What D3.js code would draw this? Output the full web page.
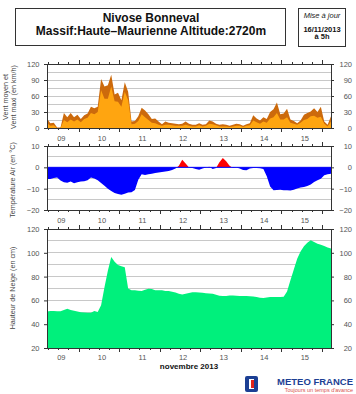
<!DOCTYPE html>
<html><head><meta charset="utf-8">
<script src="https://cdn.jsdelivr.net/npm/d3@7"></script>
<style>
body{margin:0;background:#fff;}
svg{display:block;font-family:Arial,"Liberation Sans",sans-serif;}
</style></head>
<body><svg id="c" width="356" height="394"></svg>
<script>
// ---- data (2-hourly, starting 2013-11-09 05:00) ----
const startTime = new Date(2013, 10, 9, 5, 0);
const stepHours = 2;
const windMax = [18,9,10,1,1,28,20,28,20,25,17,24,27,40,37,40,92,78,80,100,63,66,52,86,68,12,13,22,38,33,26,17,18,12,7,12,10,9,8,7,8,12,8,6,6,9,6,7,14,12,8,6,7,6,4,6,8,7,4,7,9,24,18,14,20,17,30,35,48,26,27,36,16,13,9,14,25,28,31,37,30,40,12,6,22];
const windMean = [9,4,5,0,0,15,11,16,12,16,11,17,19,28,26,30,71,55,55,78,50,49,40,68,52,7,8,13,26,20,15,10,9,6,4,6,6,5,4,4,4,6,4,3,3,5,3,4,8,7,5,3,3,3,2,3,4,4,2,4,5,14,11,8,12,10,18,20,28,16,16,20,10,8,6,10,15,17,22,23,19,21,8,3,12];
const temperature = [-5.5,-5.5,-5.0,-4.8,-6.2,-7.0,-7.2,-6.6,-7.5,-7.0,-6.6,-6.5,-6.0,-4.8,-5.2,-6.0,-7.3,-8.6,-10.0,-11.1,-12.0,-12.5,-12.8,-12.4,-11.8,-11.7,-10.6,-5.8,-3.3,-3.6,-3.2,-3.0,-2.7,-2.4,-2.2,-2.0,-1.7,-1.3,-0.6,0.8,3.5,1.8,-0.1,-0.3,-0.8,-1.1,-0.6,-0.1,0.3,-0.8,-0.3,2.4,4.4,2.8,0.8,-0.3,-0.1,-0.5,-1.2,-1.4,-0.6,-0.3,-0.3,-0.4,-0.8,-4.2,-9.0,-10.8,-10.6,-10.5,-10.7,-10.8,-10.9,-10.5,-9.9,-9.4,-9.2,-8.8,-8.0,-6.9,-6.0,-5.3,-3.7,-3.2,-3.0];
const snowDepth = [50.7,51,51,50.8,50.8,52,53,52,51.3,50.6,50.1,49.8,49.6,49.6,51,50.3,56,71,85,96.5,92.5,89.8,88.8,87.8,70,68.5,68.6,68.2,67.8,69,69.8,69.5,68.6,68.5,68.5,68,67.8,67.2,66.6,65.5,65,65.6,66.2,66.8,66.8,66.6,66.4,66,65.8,65.5,64.8,64,63.7,63.8,64.2,64.1,63.9,63.8,63.7,63.6,63.5,63.3,62.8,62.2,62,62.4,62.8,62.8,62.8,62.8,63,67.5,77,86,95,101,105.5,108.5,110.5,109,107.7,106.8,105.7,104.5,103.7];
const dayLabels = ["09","10","11","12","13","14","15"];
const windTicks = [0,30,60,90,120];
const tempTicks = [-20,-10,0,10];
const snowTicks = [20,40,60,80,100,120];

const times = windMax.map((_, i) => new Date(startTime.getTime() + i * stepHours * 3600e3));
const endTime = times[times.length - 1];

const svg = d3.select("#c");
const X0 = 47, X1 = 331;
const x = d3.scaleTime().domain([startTime, endTime]).range([X0, X1]);

const gridCol = "#c8c8c8", frameCol = "#333", labCol = "#555";

function panel(y0, y1, domain, gridStep, ticks) {
  const y = d3.scaleLinear().domain(domain).range([y1, y0]);
  const g = svg.append("g");
  const grid = d3.range(domain[0] + gridStep, domain[1], gridStep);
  g.selectAll(".grid").data(grid).join("line")
    .attr("x1", X0).attr("x2", X1).attr("y1", d => y(d)).attr("y2", d => y(d))
    .attr("stroke", gridCol).attr("stroke-width", 1).attr("shape-rendering", "crispEdges");
  return { y, g, y0, y1, ticks };
}

function frame(p, labelBelow) {
  const { y, y0, y1, ticks } = p;
  const fg = svg.append("g");
  fg.append("rect").attr("x", X0).attr("y", y0).attr("width", X1 - X0).attr("height", y1 - y0)
    .attr("fill", "none").attr("stroke", frameCol).attr("stroke-width", 1).attr("shape-rendering", "crispEdges");
  const t6 = d3.timeHour.every(6).range(startTime, endTime);
  t6.forEach(t => {
    const major = t.getHours() === 0;
    const len = major ? 4 : 2;
    fg.append("line").attr("x1", x(t)).attr("x2", x(t)).attr("y1", y1).attr("y2", y1 + len)
      .attr("stroke", frameCol).attr("shape-rendering", "crispEdges");
    fg.append("line").attr("x1", x(t)).attr("x2", x(t)).attr("y1", y0).attr("y2", y0 - len)
      .attr("stroke", frameCol).attr("shape-rendering", "crispEdges");
  });
  const yl = d3.axisLeft(y).tickValues(ticks).tickSize(3).tickFormat(d3.format("d"));
  const yr = d3.axisRight(y).tickValues(ticks).tickSize(3).tickFormat(d3.format("d"));
  const al = fg.append("g").attr("transform", `translate(${X0},0)`).call(yl);
  const ar = fg.append("g").attr("transform", `translate(${X1},0)`).call(yr);
  [al, ar].forEach(a => {
    a.select(".domain").remove();
    a.selectAll("line").attr("stroke", frameCol);
    a.selectAll("text").attr("font-size", 7.5).attr("fill", labCol).attr("font-family", "Arial, Liberation Sans, sans-serif");
  });
  al.selectAll("text").attr("x", -7.5);
  ar.selectAll("text").attr("text-anchor", "end").attr("x", 21);
  dayLabels.forEach((lab, i) => {
    const t = new Date(2013, 10, 9 + i, 13, 30);
    fg.append("text").attr("x", x(t)).attr("y", y1 + labelBelow).attr("text-anchor", "middle")
      .attr("font-size", 7.5).attr("fill", labCol).text(lab);
  });
}

// ---- Panel 1: wind ----
const p1 = panel(64, 128, [0, 120], 15, windTicks);
const areaW = d3.area().x((d, i) => x(times[i])).y0(p1.y(0)).y1(d => p1.y(d));
p1.g.append("path").datum(windMax).attr("d", areaW).attr("fill", "#cc6a0c");
p1.g.append("path").datum(windMean).attr("d", areaW).attr("fill", "#ffa510");
frame(p1, 12.5);

// ---- Panel 2: temperature ----
const p2 = panel(146, 210, [-20, 10], 5, tempTicks);
const defs = svg.append("defs");
defs.append("clipPath").attr("id", "above").append("rect")
  .attr("x", X0).attr("y", p2.y0).attr("width", X1 - X0).attr("height", p2.y(0) - p2.y0);
defs.append("clipPath").attr("id", "below").append("rect")
  .attr("x", X0).attr("y", p2.y(0)).attr("width", X1 - X0).attr("height", p2.y1 - p2.y(0));
const areaT = d3.area().x((d, i) => x(times[i])).y0(p2.y(0)).y1(d => p2.y(d));
p2.g.append("path").datum(temperature).attr("d", areaT).attr("fill", "#ff0000").attr("clip-path", "url(#above)");
p2.g.append("path").datum(temperature).attr("d", areaT).attr("fill", "#0000ff").attr("clip-path", "url(#below)");
p2.g.append("line").attr("x1", X0).attr("x2", X1).attr("y1", p2.y(0)).attr("y2", p2.y(0))
  .attr("stroke", "#0000ff").attr("stroke-width", 1);
frame(p2, 13.3);

// ---- Panel 3: snow ----
const p3 = panel(229, 348, [20, 120], 10, snowTicks);
const areaS = d3.area().x((d, i) => x(times[i])).y0(p3.y(20)).y1(d => p3.y(d));
p3.g.append("path").datum(snowDepth).attr("d", areaS).attr("fill", "#00f07c");
frame(p3, 12.3);

svg.append("text").attr("x", (X0 + X1) / 2).attr("y", 369).attr("text-anchor", "middle")
  .attr("font-size", 8).attr("font-weight", "bold").attr("fill", "#111").text("novembre 2013");

// ---- Y titles ----
function ytitle(lines, cx, cy, dx) {
  lines.forEach((l, i) => {
    svg.append("text").attr("transform", `translate(${cx + i * dx},${cy}) rotate(-90)`)
      .attr("text-anchor", "middle").attr("font-size", 7.2).attr("fill", "#444").text(l);
  });
}
ytitle(["Vent moyen et", "Vent maxi (en km/h)"], 8, 97, 8);
ytitle(["Température Air (en °C)"], 15, 180, 0);
ytitle(["Hauteur de Neige (en cm)"], 15, 288, 0);

// ---- Title boxes ----
svg.append("rect").attr("x", 15.5).attr("y", 8.5).attr("width", 270).attr("height", 37)
  .attr("fill", "#fff").attr("stroke", "#333").attr("stroke-width", 1);
svg.append("text").attr("x", 151).attr("y", 21.5).attr("text-anchor", "middle")
  .attr("font-size", 12).attr("font-weight", "bold").attr("fill", "#111").text("Nivose Bonneval");
svg.append("text").attr("x", 151).attr("y", 35).attr("text-anchor", "middle")
  .attr("font-size", 12).attr("font-weight", "bold").attr("fill", "#111").text("Massif:Haute\u2013Maurienne Altitude:2720m");

svg.append("rect").attr("x", 298.5).attr("y", 8.5).attr("width", 47).attr("height", 38)
  .attr("fill", "#fff").attr("stroke", "#333").attr("stroke-width", 1);
svg.append("text").attr("x", 322).attr("y", 17.5).attr("text-anchor", "middle")
  .attr("font-size", 7.5).attr("font-style", "italic").attr("fill", "#222").text("Mise à jour");
svg.append("text").attr("x", 322).attr("y", 31.5).attr("text-anchor", "middle")
  .attr("font-size", 7.5).attr("font-weight", "bold").attr("fill", "#111").text("16/11/2013");
svg.append("text").attr("x", 322).attr("y", 39).attr("text-anchor", "middle")
  .attr("font-size", 7.5).attr("font-weight", "bold").attr("fill", "#111").text("à 5h");

// ---- Logo ----
const lg = svg.append("g");
lg.append("rect").attr("x", 245).attr("y", 376).attr("width", 13).attr("height", 16).attr("rx", 2).attr("fill", "#1c3f94");
lg.append("rect").attr("x", 249).attr("y", 379).attr("width", 5).attr("height", 10).attr("fill", "#fff");
lg.append("rect").attr("x", 251).attr("y", 380).attr("width", 3).attr("height", 8).attr("fill", "#e2231a");
svg.append("text").attr("x", 353).attr("y", 385).attr("text-anchor", "end")
  .attr("font-size", 9.5).attr("font-weight", "bold").attr("fill", "#1c3f94").text("METEO FRANCE");
svg.append("text").attr("x", 353).attr("y", 392).attr("text-anchor", "end")
  .attr("font-size", 5.5).attr("fill", "#d9534f").text("Toujours un temps d'avance");
</script></body></html>
